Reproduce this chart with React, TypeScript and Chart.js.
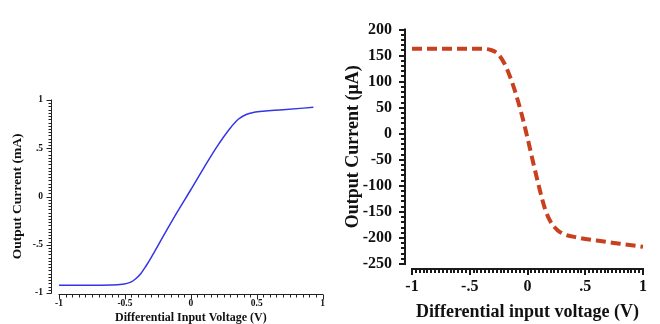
import React, { useEffect, useRef } from "react";
import { Chart, registerables } from "chart.js";

Chart.register(...registerables);

// ---------- Left chart data ----------
const leftVoltage = [-1, -0.8, -0.6, -0.52, -0.46, -0.42, -0.38, -0.34, -0.3, -0.2, -0.1, 0, 0.1, 0.2, 0.3, 0.36, 0.42, 0.48, 0.55, 0.7, 0.93];
const leftCurrent = [-0.92, -0.92, -0.918, -0.91, -0.89, -0.855, -0.8, -0.72, -0.63, -0.39, -0.155, 0.07, 0.3, 0.52, 0.71, 0.8, 0.85, 0.872, 0.884, 0.898, 0.925];
const leftXTicks = [-1, -0.5, 0, 0.5, 1];
const leftXTickLabels = ["-1", "-0.5", "0", "0.5", "1"];
const leftYTicks = [-1, -0.5, 0, 0.5, 1];
const leftYTickLabels = ["-1", "-.5", "0", ".5", "1"];

// ---------- Right chart data ----------
const rightVoltage = [-1, -0.7, -0.4, -0.32, -0.26, -0.2, -0.15, -0.1, -0.05, 0, 0.05, 0.1, 0.15, 0.2, 0.26, 0.32, 0.43, 0.6, 0.8, 1];
const rightCurrent = [163, 163, 163, 161, 154, 135, 109, 76, 37, -8, -56, -102, -143, -169, -185, -193, -199, -205, -211, -217];
const rightXTicks = [-1, -0.5, 0, 0.5, 1];
const rightXTickLabels = ["-1", "-.5", "0", ".5", "1"];
const rightYTicks = [-250, -200, -150, -100, -50, 0, 50, 100, 150, 200];
const rightYTickLabels = ["-250", "-200", "-150", "-100", "-50", "0", "50", "100", "150", "200"];

const SERIF = "'Liberation Serif', 'Times New Roman', serif";

const labelFor = (ticks: number[], labels: string[]) => (v: number) => {
  const i = ticks.findIndex((t) => Math.abs(t - v) < 1e-9);
  return i >= 0 ? labels[i] : "";
};

const offsetAxes = {
  id: "offsetAxes",
  afterDraw(chart: any, _args: any, o: any) {
    const { ctx, chartArea, scales } = chart;
    const xs = scales.x;
    const ys = scales.y;
    const half = o.lineWidth % 2 === 1 ? 0.5 : 0;
    ctx.save();
    ctx.strokeStyle = o.color;
    ctx.lineWidth = o.lineWidth;
    ctx.lineCap = "butt";
    // y axis
    const ax = Math.round(chartArea.left - o.yGap) + half;
    const yTop = ys.getPixelForValue(ys.max);
    const yBot = ys.getPixelForValue(ys.min);
    ctx.beginPath();
    ctx.moveTo(ax, yTop - o.lineWidth / 2);
    ctx.lineTo(ax, yBot + o.lineWidth / 2);
    ctx.stroke();
    const nY = Math.round((ys.max - ys.min) / o.yMinor);
    for (let i = 0; i <= nY; i++) {
      const v = ys.min + i * o.yMinor;
      const major = o.yMajor.some((m: number) => Math.abs(m - v) < o.yMinor / 3);
      const p = Math.round(ys.getPixelForValue(v)) + half;
      ctx.beginPath();
      ctx.moveTo(ax, p);
      ctx.lineTo(ax - (major ? o.majorLen : o.minorLen), p);
      ctx.stroke();
    }
    // x axis
    const ay = Math.round(chartArea.bottom + o.xGap) + half;
    const xL = xs.getPixelForValue(xs.min);
    const xR = xs.getPixelForValue(xs.max);
    ctx.beginPath();
    ctx.moveTo(xL - o.lineWidth / 2, ay);
    ctx.lineTo(xR + o.lineWidth / 2, ay);
    ctx.stroke();
    const nX = Math.round((xs.max - xs.min) / o.xMinor);
    for (let i = 0; i <= nX; i++) {
      const v = xs.min + i * o.xMinor;
      const major = o.xMajor.some((m: number) => Math.abs(m - v) < o.xMinor / 3);
      const p = Math.round(xs.getPixelForValue(v)) + half;
      ctx.beginPath();
      ctx.moveTo(p, ay);
      ctx.lineTo(p, ay + (major ? o.majorLen : o.minorLen));
      ctx.stroke();
    }
    ctx.restore();
  },
};

function makeLeft(canvas: HTMLCanvasElement) {
  const font = { family: SERIF, size: 9.5, weight: "bold" as const };
  return new Chart(canvas, {
    type: "line",
    data: {
      datasets: [
        {
          data: leftVoltage.map((x, i) => ({ x, y: leftCurrent[i] })),
          borderColor: "#3535e6",
          borderWidth: 1.5,
          pointRadius: 0,
          cubicInterpolationMode: "monotone",
          fill: false,
        },
      ],
    },
    options: {
      responsive: false,
      animation: false,
      devicePixelRatio: 1,
      layout: { padding: { top: 100, right: 5, bottom: 0, left: 0 } },
      plugins: {
        legend: { display: false },
        tooltip: { enabled: false },
        offsetAxes: {
          color: "#222",
          lineWidth: 1,
          yGap: 8,
          xGap: 1,
          majorLen: 5,
          minorLen: 3,
          yMinor: 1 / 30,
          xMinor: 0.05,
          yMajor: leftYTicks,
          xMajor: leftXTicks,
        },
      } as any,
      scales: {
        x: {
          type: "linear",
          min: -1,
          max: 1,
          grid: { display: false, drawTicks: false },
          border: { display: false },
          afterBuildTicks: (s: any) => {
            s.ticks = leftXTicks.map((value) => ({ value }));
          },
          afterFit: (s: any) => {
            s.height = 31;
          },
          ticks: {
            autoSkip: false,
            maxRotation: 0,
            padding: 5,
            color: "#111",
            font,
            callback: (v: any) => labelFor(leftXTicks, leftXTickLabels)(Number(v)),
          },
          title: {
            display: true,
            text: "Differential Input Voltage (V)",
            color: "#111",
            font: { family: SERIF, size: 12, weight: "bold", lineHeight: 1 },
            padding: { top: 0, bottom: 0 },
          },
        },
        y: {
          type: "linear",
          min: -1,
          max: 1,
          grid: { display: false, drawTicks: false },
          border: { display: false },
          afterBuildTicks: (s: any) => {
            s.ticks = leftYTicks.map((value) => ({ value }));
          },
          afterFit: (s: any) => {
            s.width = 59;
          },
          ticks: {
            autoSkip: false,
            padding: 16,
            color: "#111",
            font,
            callback: (v: any) => labelFor(leftYTicks, leftYTickLabels)(Number(v)),
          },
          title: {
            display: true,
            text: "Output Current (mA)",
            color: "#111",
            font: { family: SERIF, size: 13.5, weight: "bold", lineHeight: 1 },
            padding: { top: 11, bottom: 0 },
          },
        },
      },
    },
    plugins: [offsetAxes],
  } as any);
}

function makeRight(canvas: HTMLCanvasElement) {
  const font = { family: SERIF, size: 16, weight: "bold" as const };
  return new Chart(canvas, {
    type: "line",
    data: {
      datasets: [
        {
          data: rightVoltage.map((x, i) => ({ x, y: rightCurrent[i] })),
          borderColor: "#c8401e",
          borderWidth: 4,
          borderDash: [10, 5],
          pointRadius: 0,
          cubicInterpolationMode: "monotone",
          fill: false,
        },
      ],
    },
    options: {
      responsive: false,
      animation: false,
      devicePixelRatio: 1,
      layout: { padding: { top: 14, right: 8, bottom: 0, left: 0 } },
      plugins: {
        legend: { display: false },
        tooltip: { enabled: false },
        offsetAxes: {
          color: "#1a1a1a",
          lineWidth: 2,
          yGap: 7,
          xGap: 5,
          majorLen: 6,
          minorLen: 4,
          yMinor: 10,
          xMinor: 1 / 30,
          yMajor: rightYTicks,
          xMajor: rightXTicks,
        },
      } as any,
      scales: {
        x: {
          type: "linear",
          min: -1,
          max: 1,
          grid: { display: false, drawTicks: false },
          border: { display: false },
          afterBuildTicks: (s: any) => {
            s.ticks = rightXTicks.map((value) => ({ value }));
          },
          afterFit: (s: any) => {
            s.height = 60;
          },
          ticks: {
            autoSkip: false,
            maxRotation: 0,
            padding: 13,
            color: "#111",
            font,
            callback: (v: any) => labelFor(rightXTicks, rightXTickLabels)(Number(v)),
          },
          title: {
            display: true,
            text: "Differential input voltage (V)",
            color: "#111",
            font: { family: SERIF, size: 18, weight: "bold", lineHeight: 1 },
            padding: { top: 0, bottom: 3 },
          },
        },
        y: {
          type: "linear",
          min: -250,
          max: 200,
          grid: { display: false, drawTicks: false },
          border: { display: false },
          afterBuildTicks: (s: any) => {
            s.ticks = rightYTicks.map((value) => ({ value }));
          },
          afterFit: (s: any) => {
            s.width = 82;
          },
          ticks: {
            autoSkip: false,
            padding: 20,
            color: "#111",
            font,
            callback: (v: any) => labelFor(rightYTicks, rightYTickLabels)(Number(v)),
          },
          title: {
            display: true,
            text: "Output Current (\u03bcA)",
            color: "#111",
            font: { family: SERIF, size: 18, weight: "bold", lineHeight: 1 },
            padding: { top: 14, bottom: 0 },
          },
        },
      },
    },
    plugins: [offsetAxes],
  } as any);
}

export default function App() {
  const leftRef = useRef<HTMLCanvasElement>(null);
  const rightRef = useRef<HTMLCanvasElement>(null);

  useEffect(() => {
    const a = makeLeft(leftRef.current!);
    const b = makeRight(rightRef.current!);
    return () => {
      a.destroy();
      b.destroy();
    };
  }, []);

  return (
    <div style={{ position: "fixed", left: 0, top: 0, width: 660, height: 324, background: "#fff", overflow: "hidden" }}>
      <canvas ref={leftRef} width={330} height={324} style={{ position: "absolute", left: 0, top: 0, width: 330, height: 324 }} />
      <canvas ref={rightRef} width={330} height={324} style={{ position: "absolute", left: 330, top: 0, width: 330, height: 324 }} />
    </div>
  );
}
